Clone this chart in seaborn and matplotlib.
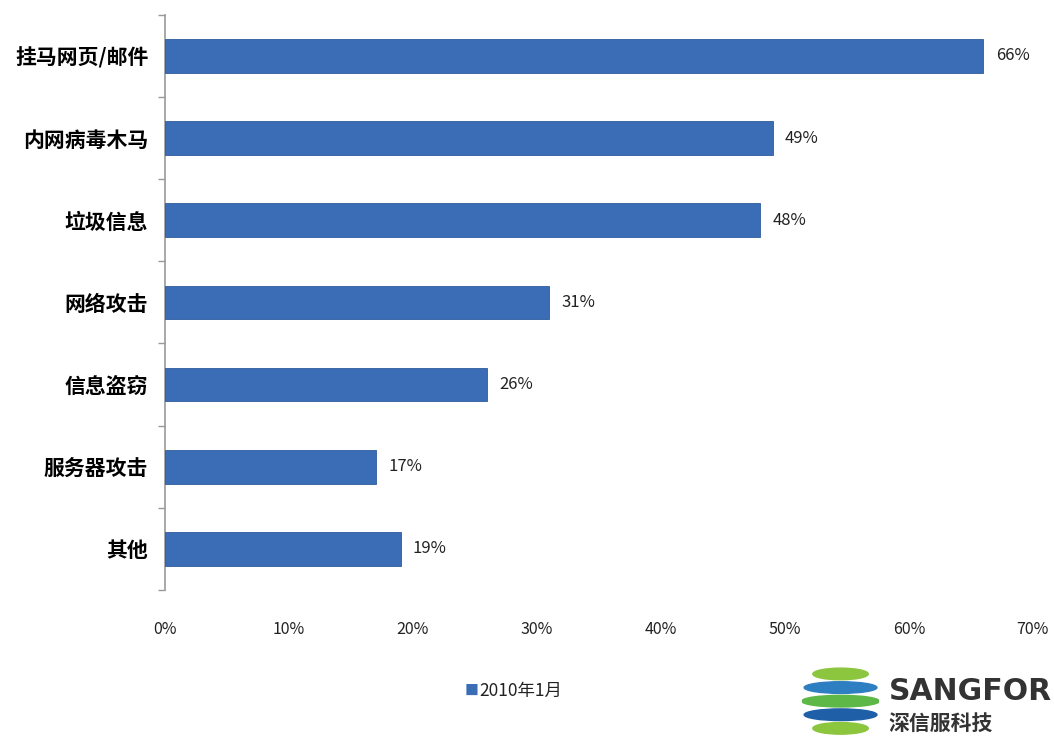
import matplotlib
matplotlib.use("Agg")
import matplotlib.pyplot as plt
import seaborn as sns
import pandas as pd
from matplotlib.patches import Ellipse

categories = ['挂马网页/邮件', '内网病毒木马', '垃圾信息', '网络攻击', '信息盗窃', '服务器攻击', '其他']
values = [66, 49, 48, 31, 26, 17, 19]
series_name = '2010年1月'
x_ticks = [0, 10, 20, 30, 40, 50, 60, 70]

sns.set_theme(style='white')
plt.rcParams['font.family'] = ['Noto Sans CJK SC', 'DejaVu Sans']

df = pd.DataFrame({'cat': categories, 'val': values})

fig = plt.figure(figsize=(10.54, 7.40), dpi=100)
ax = fig.add_axes([0.1565, 0.2027, 0.8235, 0.7773])

bar_color = '#3A6DB5'
sns.barplot(data=df, x='val', y='cat', color=bar_color, width=0.41,
            saturation=1, ax=ax, edgecolor='#2F5C9C', linewidth=0.6, zorder=3)

ax.set_xlim(0, 70)
ax.set_ylim(6.5, -0.5)
ax.set_xlabel('')
ax.set_ylabel('')

ax.set_xticks(x_ticks)
ax.set_xticklabels([f'{t}%' for t in x_ticks], fontsize=11.5, color='#222222')
ax.tick_params(axis='x', length=0, pad=22)

ax.set_yticks(range(len(categories)))
ax.set_yticklabels(categories, fontsize=15, fontweight='bold', color='black')
ax.tick_params(axis='y', which='major', left=False, length=0, pad=12)
ax.set_yticks([i - 0.5 for i in range(len(categories) + 1)], minor=True)
ax.tick_params(axis='y', which='minor', left=True, length=5, width=1,
               color='#999999', direction='out')

for s in ['top', 'right', 'bottom']:
    ax.spines[s].set_visible(False)
ax.spines['left'].set_color('#999999')
ax.spines['left'].set_linewidth(1.2)

for i, v in enumerate(values):
    ax.text(v + 1.0, i, f'{v}%', va='center', ha='left', fontsize=12, color='#222222')

# legend
fig.text(0.441, 0.067, '■', color=bar_color, fontsize=10, ha='left', va='center')
fig.text(0.455, 0.067, series_name, fontsize=12.5, ha='left', va='center', color='#222222')

# logo
lax = fig.add_axes([0.755, 0.0, 0.085, 0.105])
lax.set_xlim(-1, 1)
lax.set_ylim(-1, 1)
lax.set_aspect('equal')
lax.axis('off')
stripes = [(0.7, '#8CC63F'), (0.35, '#2E7FC2'), (0.0, '#5DB847'), (-0.35, '#1F5FA8'), (-0.7, '#8CC63F')]
for yy, c in stripes:
    w = 2 * (1 - yy ** 2) ** 0.5
    lax.add_patch(Ellipse((0, yy), w, 0.3, color=c))
fig.text(0.843, 0.065, 'SANGFOR', fontsize=21.5, fontweight='bold', color='#333333',
         ha='left', va='center', family='DejaVu Sans')
fig.text(0.843, 0.022, '深信服科技', fontsize=15, fontweight='bold', color='#333333',
         ha='left', va='center')

fig.savefig('out.png', dpi=100)
